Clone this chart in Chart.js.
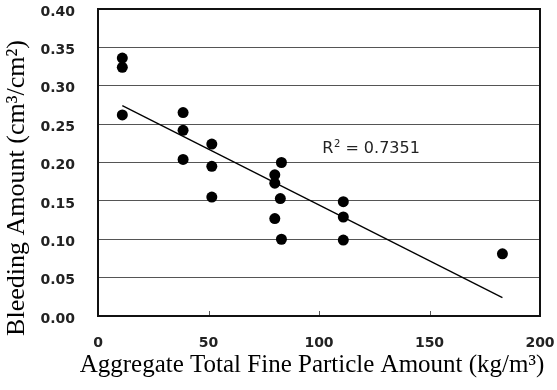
<!DOCTYPE html>
<html><head><meta charset="utf-8">
<script src="https://cdn.jsdelivr.net/npm/chart.js@4/dist/chart.umd.min.js"></script>
<style>html,body{margin:0;padding:0;background:#fff}#wrap{width:557px;height:390px}</style>
</head><body><div id="wrap"><canvas id="c" width="557" height="390"></canvas></div>
<script>
// ---- data ----
const fineAmount = [11, 11, 11, 38.5, 38.5, 38.5, 51.5, 51.5, 51.5, 83, 80, 80, 82.5, 80, 83, 111, 111, 111, 183];
const bleeding   = [0.336, 0.324, 0.262, 0.265, 0.242, 0.204, 0.224, 0.195, 0.155, 0.200, 0.184, 0.173, 0.153, 0.127, 0.100, 0.149, 0.129, 0.099, 0.081];
const trendX = [11, 183];
const trendY = [0.274, 0.024];
const xTickValues = [0, 50, 100, 150, 200];
const yTickValues = [0, 0.05, 0.10, 0.15, 0.20, 0.25, 0.30, 0.35, 0.40];
const xTitle = 'Aggregate Total Fine Particle Amount (kg/m³)';
const yTitle = 'Bleeding Amount (cm³/cm²)';
const rLabelMain = 'R';
const rLabelSup = '2';
const rLabelRest = ' = 0.7351';
const rLabelAt = [101.5, 0.2125];

const scatterPts = fineAmount.map((x, i) => ({x: x, y: bleeding[i]}));
const trendPts = trendX.map((x, i) => ({x: x, y: trendY[i]}));

const decor = {
  id: 'decor',
  afterDatasetsDraw(chart) {
    const ctx = chart.ctx, a = chart.chartArea;
    const xs = chart.scales.x, ys = chart.scales.y;
    ctx.save();
    // inward tick marks on the x axis
    ctx.strokeStyle = '#555';
    ctx.lineWidth = 1;
    xTickValues.slice(1, -1).forEach(v => {
      const px = Math.round(xs.getPixelForValue(v)) + 0.5;
      ctx.beginPath(); ctx.moveTo(px, a.bottom - 5); ctx.lineTo(px, a.bottom); ctx.stroke();
    });
    // frame
    ctx.strokeStyle = '#111';
    ctx.lineWidth = 2;
    ctx.strokeRect(a.left, a.top, a.right - a.left, a.bottom - a.top);
    // R^2 annotation
    const rx = xs.getPixelForValue(rLabelAt[0]);
    const ry = ys.getPixelForValue(rLabelAt[1]);
    ctx.fillStyle = '#222';
    ctx.textBaseline = 'alphabetic';
    ctx.textAlign = 'left';
    ctx.font = '16px "DejaVu Sans"';
    ctx.fillText(rLabelMain, rx, ry);
    let w = ctx.measureText(rLabelMain).width;
    ctx.font = '10px "DejaVu Sans"';
    ctx.fillText(rLabelSup, rx + w + 0.5, ry - 6);
    w += ctx.measureText(rLabelSup).width + 0.5;
    ctx.font = '16px "DejaVu Sans"';
    ctx.fillText(rLabelRest, rx + w, ry);
    // axis titles
    ctx.fillStyle = '#000';
    ctx.font = '25px "Liberation Serif"';
    ctx.textAlign = 'center';
    ctx.fillText(xTitle, 312, 372);
    ctx.translate(17, 188);
    ctx.rotate(-Math.PI / 2);
    ctx.textBaseline = 'middle';
    ctx.font = '26px "Liberation Serif"';
    ctx.fillText(yTitle, 0, 0);
    ctx.restore();
  }
};

new Chart(document.getElementById('c'), {
  type: 'scatter',
  data: {
    datasets: [
      { type: 'scatter', data: scatterPts, backgroundColor: '#000', borderWidth: 0, pointRadius: 5.5, pointHoverRadius: 5.5 },
      { type: 'line', data: trendPts, borderColor: '#000', borderWidth: 1.3, pointRadius: 0, fill: false, tension: 0 }
    ]
  },
  options: {
    responsive: false,
    animation: false,
    devicePixelRatio: 1,
    layout: { padding: { left: 0, right: 17, top: 9, bottom: 0 } },
    plugins: { legend: { display: false }, tooltip: { enabled: false } },
    scales: {
      x: {
        type: 'linear', min: 0, max: 200,
        afterBuildTicks: s => { s.ticks = xTickValues.map(v => ({value: v})); },
        ticks: { font: { family: 'DejaVu Sans', size: 14, weight: 'bold' }, color: '#222', padding: 19, maxRotation: 0 },
        grid: { display: false, drawTicks: false },
        border: { display: false },
        afterFit: s => { s.height = 74; s.paddingLeft = 0; s.paddingRight = 0; s.paddingTop = 0; s.paddingBottom = 0; }
      },
      y: {
        type: 'linear', min: 0, max: 0.4,
        afterBuildTicks: s => { s.ticks = yTickValues.map(v => ({value: v})); },
        ticks: { font: { family: 'DejaVu Sans', size: 14, weight: 'bold' }, color: '#222', padding: 23, labelOffset: 3,
                 callback: v => Number(v).toFixed(2) },
        grid: { color: '#555', lineWidth: 1, drawTicks: false },
        border: { display: false },
        afterFit: s => { s.width = 98; s.paddingLeft = 0; s.paddingRight = 0; s.paddingTop = 0; s.paddingBottom = 0; }
      }
    }
  },
  plugins: [decor]
});
</script></body></html>
